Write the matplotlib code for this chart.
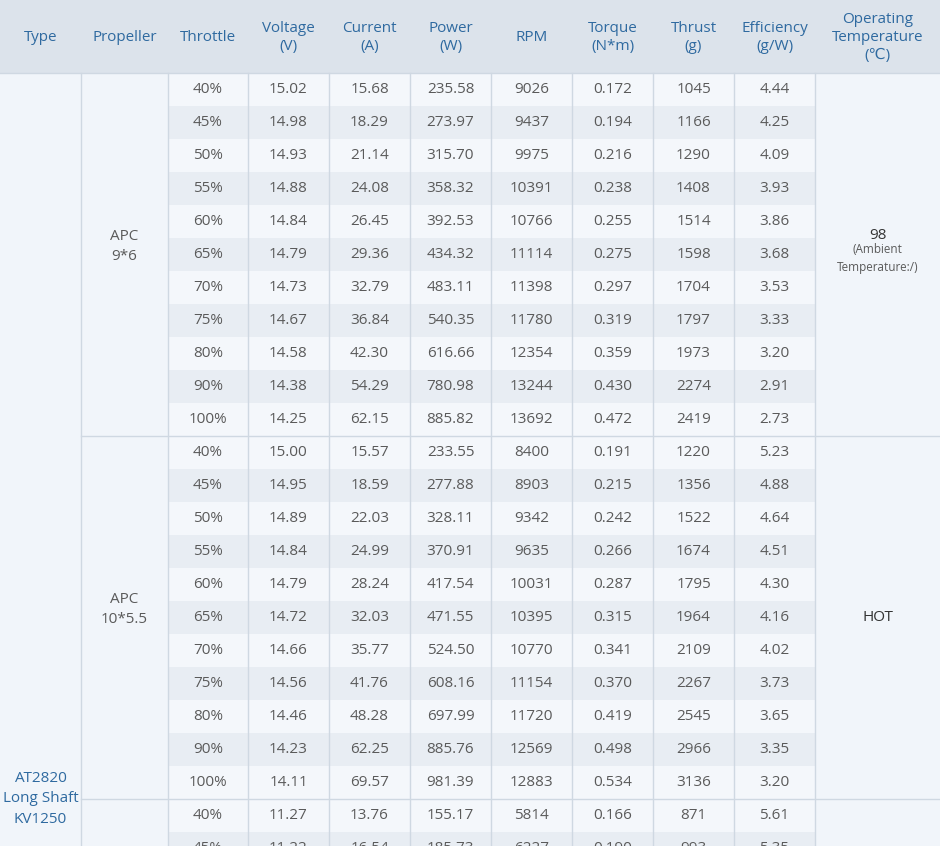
import matplotlib
matplotlib.use("Agg")
import matplotlib.pyplot as plt
from matplotlib.patches import Rectangle

plt.rcParams["font.family"] = ["Open Sans", "DejaVu Sans"]

headers = ["Type", "Propeller", "Throttle", "Voltage\n(V)", "Current\n(A)", "Power\n(W)",
           "RPM", "Torque\n(N*m)", "Thrust\n(g)", "Efficiency\n(g/W)", "Operating\nTemperature\n(℃)"]
col_edges = [0, 81, 168, 248, 329, 410, 491, 572, 653, 734, 815, 940]

throttle = ["40%", "45%", "50%", "55%", "60%", "65%", "70%", "75%", "80%", "90%", "100%"]

apc96_voltage = ["15.02", "14.98", "14.93", "14.88", "14.84", "14.79", "14.73", "14.67", "14.58", "14.38", "14.25"]
apc96_current = ["15.68", "18.29", "21.14", "24.08", "26.45", "29.36", "32.79", "36.84", "42.30", "54.29", "62.15"]
apc96_power = ["235.58", "273.97", "315.70", "358.32", "392.53", "434.32", "483.11", "540.35", "616.66", "780.98", "885.82"]
apc96_rpm = ["9026", "9437", "9975", "10391", "10766", "11114", "11398", "11780", "12354", "13244", "13692"]
apc96_torque = ["0.172", "0.194", "0.216", "0.238", "0.255", "0.275", "0.297", "0.319", "0.359", "0.430", "0.472"]
apc96_thrust = ["1045", "1166", "1290", "1408", "1514", "1598", "1704", "1797", "1973", "2274", "2419"]
apc96_eff = ["4.44", "4.25", "4.09", "3.93", "3.86", "3.68", "3.53", "3.33", "3.20", "2.91", "2.73"]

apc1055_voltage = ["15.00", "14.95", "14.89", "14.84", "14.79", "14.72", "14.66", "14.56", "14.46", "14.23", "14.11"]
apc1055_current = ["15.57", "18.59", "22.03", "24.99", "28.24", "32.03", "35.77", "41.76", "48.28", "62.25", "69.57"]
apc1055_power = ["233.55", "277.88", "328.11", "370.91", "417.54", "471.55", "524.50", "608.16", "697.99", "885.76", "981.39"]
apc1055_rpm = ["8400", "8903", "9342", "9635", "10031", "10395", "10770", "11154", "11720", "12569", "12883"]
apc1055_torque = ["0.191", "0.215", "0.242", "0.266", "0.287", "0.315", "0.341", "0.370", "0.419", "0.498", "0.534"]
apc1055_thrust = ["1220", "1356", "1522", "1674", "1795", "1964", "2109", "2267", "2545", "2966", "3136"]
apc1055_eff = ["5.23", "4.88", "4.64", "4.51", "4.30", "4.16", "4.02", "3.73", "3.65", "3.35", "3.20"]

# third propeller, only first rows visible
p3_rows = [["40%", "11.27", "13.76", "155.17", "5814", "0.166", "871", "5.61"],
           ["45%", "11.22", "16.54", "185.73", "6227", "0.190", "993", "5.35"]]

groups = [
    ("APC\n9*6", "98", list(zip(throttle, apc96_voltage, apc96_current, apc96_power, apc96_rpm,
                                 apc96_torque, apc96_thrust, apc96_eff))),
    ("APC\n10*5.5", "HOT", list(zip(throttle, apc1055_voltage, apc1055_current, apc1055_power, apc1055_rpm,
                                     apc1055_torque, apc1055_thrust, apc1055_eff))),
    ("", "", p3_rows),
]

W, H = 940, 846
head_h = 73
row_h = 33
head_bg = "#dce3eb"
head_fg = "#2f6aa0"
body_fg = "#5a5a5a"
line_c = "#cfd8e2"
merged_bg = "#f1f5fa"
stripe = ["#f4f7fb", "#e8edf3"]
fs = 11

fig = plt.figure(figsize=(W / 100, H / 100), dpi=100)
ax = fig.add_axes([0, 0, 1, 1])
ax.set_xlim(0, W)
ax.set_ylim(H, 0)
ax.axis("off")

# header
ax.add_patch(Rectangle((0, 0), W, head_h, color=head_bg, lw=0))
for i, h in enumerate(headers):
    cx = (col_edges[i] + col_edges[i + 1]) / 2
    ax.text(cx, head_h / 2 + 1, h, ha="center", va="center", color=head_fg, fontsize=fs, linespacing=1.3)
ax.plot([0, W], [head_h, head_h], color=line_c, lw=1)

ax.add_patch(Rectangle((0, head_h), W, H - head_h, color=merged_bg, lw=0))

y = head_h
for prop, temp, rows in groups:
    g_top = y
    for r, vals in enumerate(rows):
        ax.add_patch(Rectangle((col_edges[2], y), col_edges[10] - col_edges[2], row_h,
                               color=stripe[r % 2], lw=0))
        for j, v in enumerate(vals):
            cx = (col_edges[j + 2] + col_edges[j + 3]) / 2
            ax.text(cx, y + row_h / 2, v, ha="center", va="center", color=body_fg, fontsize=fs)
        y += row_h
    g_bot = y
    if prop:
        mid = (g_top + g_bot) / 2
        ax.text((col_edges[1] + col_edges[2]) / 2, mid - 8, prop, ha="center", va="center",
                color=body_fg, fontsize=fs, linespacing=1.5)
        tx = (col_edges[10] + col_edges[11]) / 2
        if temp == "98":
            ax.text(tx, mid - 19, temp, ha="center", va="center", color="#333333", fontsize=fs)
            ax.text(tx, mid + 4, "(Ambient\nTemperature:/)", ha="center", va="center",
                    color=body_fg, fontsize=8.5, linespacing=1.5)
        else:
            ax.text(tx, mid, temp, ha="center", va="center", color="#333333", fontsize=fs)
        ax.plot([col_edges[1], W], [g_bot, g_bot], color=line_c, lw=1)

# vertical lines
for x in col_edges[1:-1]:
    ax.plot([x, x], [head_h, H], color=line_c, lw=1)

ax.text(col_edges[1] / 2, 799, "AT2820\nLong Shaft\nKV1250", ha="center", va="center",
        color=head_fg, fontsize=fs, linespacing=1.5)

fig.savefig("out.png", dpi=100)
